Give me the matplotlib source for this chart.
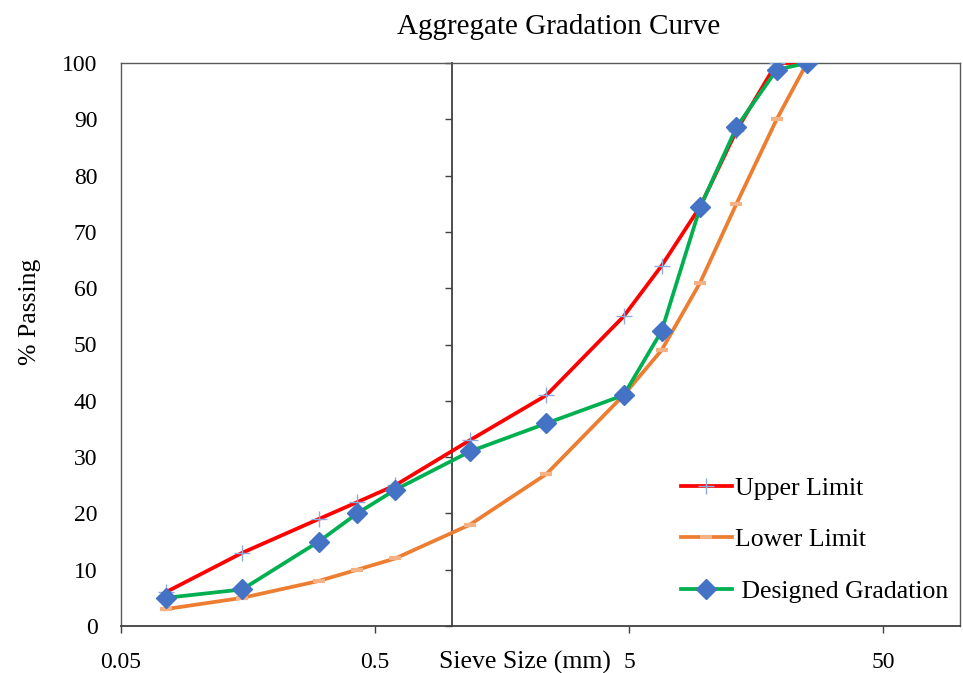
import numpy as np
import matplotlib
matplotlib.use('Agg')
import matplotlib.pyplot as plt

plt.rcParams['font.family'] = ['Liberation Serif', 'DejaVu Serif']

# sieve sizes (mm) and % passing
sieve_mm = [0.075, 0.15, 0.3, 0.425, 0.6, 1.18, 2.36, 4.75, 6.7, 9.5, 13.2, 19, 25]
upper_limit = [6, 13, 19, 22, 25, 33, 41, 55, 64, 74.5, 88, 100, 100]
lower_limit = [3, 5, 8, 10, 12, 18, 27, 41, 49, 61, 75, 90, 100]
designed = [5, 6.5, 15, 20, 24.2, 31, 36, 41, 52.4, 74.4, 88.6, 98.8, 100]

x_ticks = [0.05, 0.5, 5, 50]
x_tick_labels = ['0.05', '0.5', '5', '50']
y_ticks = list(range(0, 101, 10))
x_min, x_max = 0.05, 100
y_cross = 1.0

fs_tick = 17
fs_text = 18.5
axis_col = '#404040'

fig = plt.figure(figsize=(9.63, 6.73), dpi=100)
ax = fig.add_axes([121 / 963, 47 / 673, 839 / 963, 563 / 673])

ax.plot(sieve_mm, upper_limit, color='#FF0000', lw=2.7, marker='+', ms=12, mew=1,
        mec='#8FAADC', label='Upper Limit', zorder=3)
ax.plot(sieve_mm, lower_limit, color='#ED7D31', lw=2.7, marker='_', ms=8, mew=3,
        mec='#F4B183', label='Lower Limit', zorder=3)
ax.plot(sieve_mm, designed, color='#00B050', lw=2.7, marker='D', ms=10,
        mfc='#4472C4', mec='#4472C4', label=' Designed Gradation', zorder=4)

ax.set_xscale('log')
ax.set_xlim(x_min, x_max)
ax.set_ylim(0, 100)
ax.set_xticks(x_ticks)
ax.set_xticklabels(x_tick_labels)
ax.xaxis.set_minor_locator(matplotlib.ticker.NullLocator())
ax.tick_params(axis='x', direction='out', length=5, width=1, color=axis_col,
               labelsize=fs_tick, pad=14)

# y tick labels on the frame edge, tick marks on the crossing axis
ax.set_yticks(y_ticks)
ax.tick_params(axis='y', length=0, labelsize=fs_tick, pad=17)

for side in ['left', 'top', 'right']:
    ax.spines[side].set_color('#595959')
    ax.spines[side].set_linewidth(1)
ax.spines['bottom'].set_color(axis_col)
ax.spines['bottom'].set_linewidth(1.3)

cross_frac = np.log10(y_cross / x_min) / np.log10(x_max / x_min)
sec = ax.secondary_yaxis(cross_frac)
sec.set_yticks(y_ticks)
sec.tick_params(axis='y', direction='out', length=5, width=1, color=axis_col,
                labelleft=False, labelright=False)
sec.spines['left'].set_color(axis_col)
sec.spines['left'].set_linewidth(1.3)

fig.text(559 / 963, 1 - 27 / 673, 'Aggregate Gradation Curve', ha='center', va='center',
         fontsize=21)
fig.text(30 / 963, 1 - 312 / 673, '% Passing', ha='center', va='center',
         rotation=90, fontsize=fs_text)
fig.text(525 / 963, 1 - 662 / 673, 'Sieve Size (mm)', ha='center', va='center',
         fontsize=fs_text)

ax.legend(loc='center left', bbox_to_anchor=(0.667, 0.153), frameon=False,
          fontsize=fs_text, handlelength=2.0, handletextpad=0.1, labelspacing=1.1,
          borderaxespad=0, borderpad=0)

fig.savefig('out.png', dpi=100)
